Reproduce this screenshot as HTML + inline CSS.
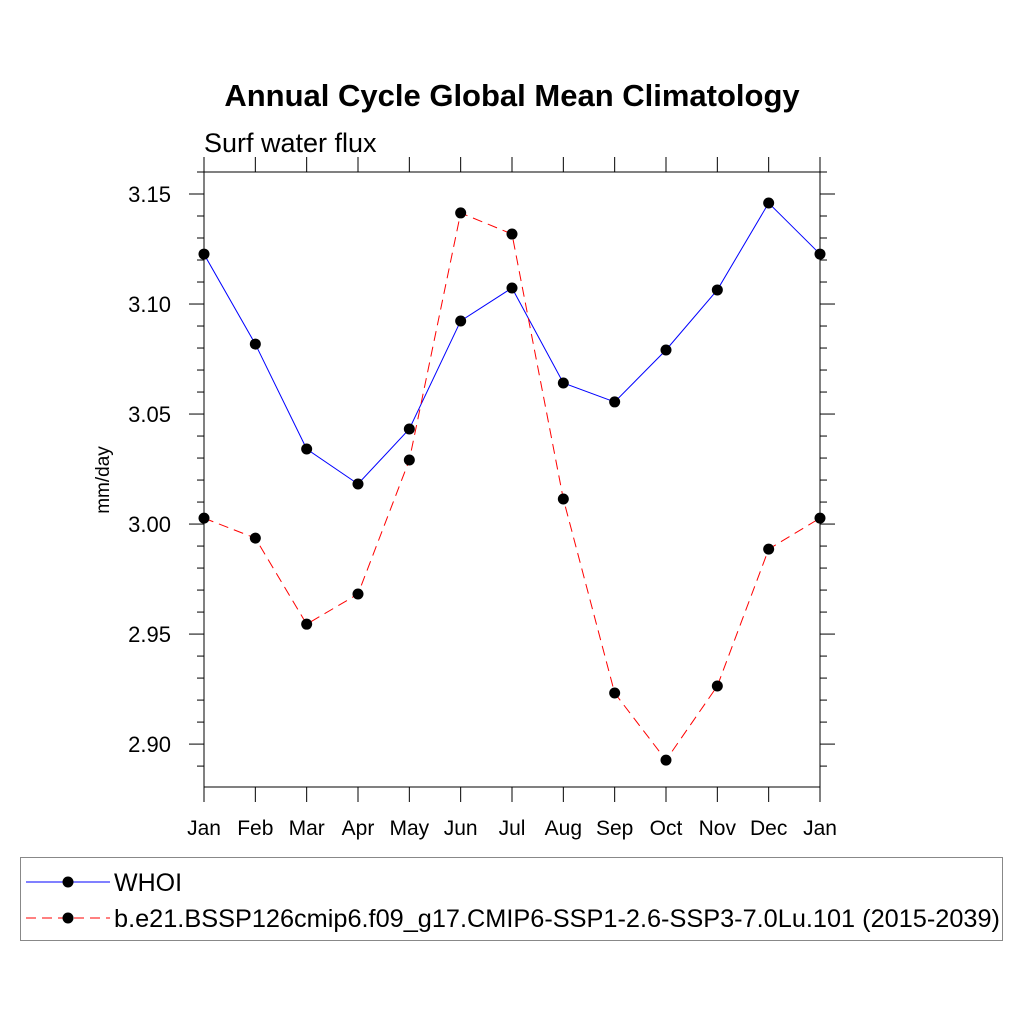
<!DOCTYPE html>
<html><head><meta charset="utf-8"><style>
body{margin:0;background:#fff}
svg{display:block;font-family:"Liberation Sans",sans-serif}
</style></head><body>
<svg id="chart" width="1024" height="1024" viewBox="0 0 1024 1024">
<text x="512" y="106" text-anchor="middle" font-size="31" font-weight="bold">Annual Cycle Global Mean Climatology</text>
<text x="204" y="152" font-size="27">Surf water flux</text>
<text transform="translate(109,480) rotate(-90)" text-anchor="middle" font-size="19">mm/day</text>
<g id="axes"></g>
<g id="series"></g>
<g>
<rect x="20.5" y="857.5" width="982" height="83" fill="none" stroke="#888" stroke-width="1"/>
<g>
<line x1="26" y1="882" x2="110" y2="882" stroke="#00f" stroke-width="1"/>
<circle cx="68" cy="882" r="5.5" fill="#000"/>
<text x="114" y="891" font-size="25">WHOI</text>
</g>
<g>
<line x1="26" y1="918" x2="110" y2="918" stroke="#f00" stroke-width="1" stroke-dasharray="10,6"/>
<circle cx="68" cy="918" r="5.5" fill="#000"/>
<text x="114" y="927" font-size="25" textLength="886" lengthAdjust="spacingAndGlyphs">b.e21.BSSP126cmip6.f09_g17.CMIP6-SSP1-2.6-SSP3-7.0Lu.101 (2015-2039)</text>
</g>
</g>
</svg>
<script>
const months = ["Jan","Feb","Mar","Apr","May","Jun","Jul","Aug","Sep","Oct","Nov","Dec","Jan"];
const whoi = [3.1227,3.0818,3.0341,3.0182,3.0432,3.0923,3.1073,3.0641,3.0555,3.0791,3.1064,3.1459,3.1227];
const model = [3.0027,2.9936,2.9545,2.9682,3.0291,3.1414,3.1318,3.0114,2.9232,2.8927,2.9264,2.9886,3.0027];
const yTicks = ["2.90","2.95","3.00","3.05","3.10","3.15"];

const NS="http://www.w3.org/2000/svg";
const L=204,R=820,T=172,B=787,YMIN=2.8805,YMAX=3.16;
const xs=i=>L+(R-L)*i/(months.length-1);
const ys=v=>B-(v-YMIN)/(YMAX-YMIN)*(B-T);
function mk(tag,attrs,parent){const e=document.createElementNS(NS,tag);for(const k in attrs)e.setAttribute(k,attrs[k]);parent.appendChild(e);return e;}
const ax=document.getElementById('axes');
const fr=mk('rect',{x:L,y:T,width:R-L,height:B-T,fill:'none',stroke:'#000','stroke-width':1},ax);


months.forEach((m,i)=>{
  const x=xs(i);
  mk('line',{x1:x,y1:B,x2:x,y2:B+15,stroke:'#000'},ax);
  mk('line',{x1:x,y1:T,x2:x,y2:T-15,stroke:'#000'},ax);
  const t=mk('text',{x:x,y:B+48,'text-anchor':'middle','font-size':21},ax);
  t.textContent=m;
  
  
});
for(let k=0;k<=28;k++){
  const v=2.88+k*0.01; if(v<YMIN-1e-9||v>YMAX+1e-9) continue;
  const y=ys(v); const major=Math.abs((v*100)%5)<1e-6||Math.abs((v*100)%5-5)<1e-6;
  const len=major?15:7;
  mk('line',{x1:L,y1:y,x2:L-len,y2:y,stroke:'#000'},ax);
  mk('line',{x1:R,y1:y,x2:R+len,y2:y,stroke:'#000'},ax);
}
yTicks.forEach(s=>{
  const t=mk('text',{x:L-33,y:ys(parseFloat(s))+8,'text-anchor':'end','font-size':22},ax);
  t.textContent=s;
  
  
});
const sg=document.getElementById('series');
function draw(vals,color,dash,name){
  const g=mk('g',{},sg);
  
  
  const p=vals.map((v,i)=>xs(i)+','+ys(v)).join(' ');
  const a={points:p,fill:'none',stroke:color,'stroke-width':1};
  if(dash)a['stroke-dasharray']=dash;
  mk('polyline',a,g);
  vals.forEach((v,i)=>{
    const c=mk('circle',{cx:xs(i),cy:ys(v),r:5.5,fill:'#000'},g);
    
    
  });
}
draw(whoi,'#00f',null,'series-whoi');
draw(model,'#f00','10,6','series-model');
</script>
</body></html>
